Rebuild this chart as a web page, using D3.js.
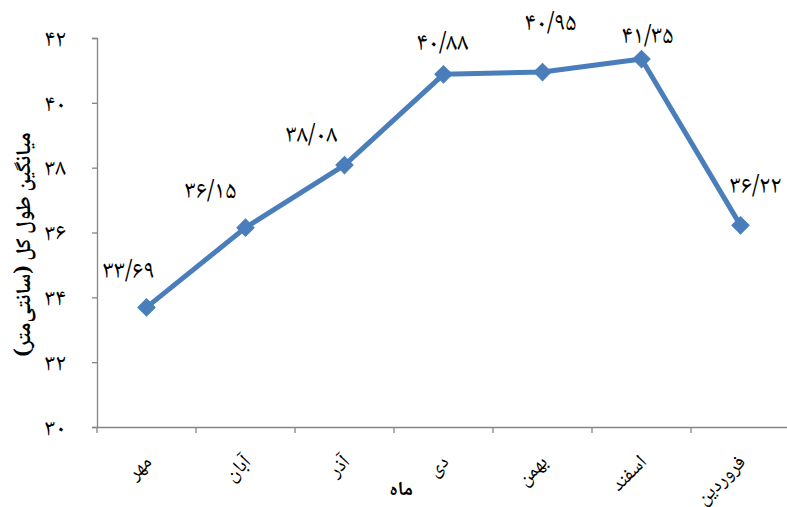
<!DOCTYPE html>
<html>
<head>
<meta charset="utf-8">
<script src="https://cdn.jsdelivr.net/npm/d3@7"></script>
<style>
  html, body { margin: 0; padding: 0; background: #fff; }
  svg { display: block; }
  text { font-family: "Noto Naskh Arabic", "DejaVu Sans", serif; fill: #000; }
</style>
</head>
<body>
<svg id="chart" width="787" height="507"></svg>
<script>
// Monthly mean total length (cm)
const months = ["مهر", "آبان", "آذر", "دی", "بهمن", "اسفند", "فروردین"];
const meanLength = [33.69, 36.15, 38.08, 40.88, 40.95, 41.35, 36.22];
const yTicks = [30, 32, 34, 36, 38, 40, 42];

// Label offsets relative to each marker (layout only)
const labelOffset = [[-18, -37], [-35, -37], [-33, -31], [-1, -32], [8, -50], [6, -24], [15, -40]];

const yTitle = "میانگین طول کل (سانتی‌متر)";
const xTitle = "ماه";

const faDigits = "۰۱۲۳۴۵۶۷۸۹";
const toFa = s => String(s).replace(/[0-9]/g, d => faDigits[+d]).replace(".", "/");

const svg = d3.select("#chart");
const mLeft = 97, mRight = 790, mTop = 38, mBottom = 427;

const x = d3.scaleBand().domain(months).range([mLeft, mRight]).padding(0);
const y = d3.scaleLinear().domain([30, 42]).range([mBottom, mTop]);

const axisColor = "#868686";

// Y axis
const yAxis = svg.append("g")
  .attr("transform", `translate(${mLeft},0)`)
  .call(d3.axisLeft(y).tickValues(yTicks).tickSize(5).tickPadding(26)
    .tickFormat(d => toFa(d)));
yAxis.select(".domain").attr("stroke", axisColor).attr("stroke-width", 1.3);
yAxis.selectAll(".tick line").attr("stroke", axisColor).attr("stroke-width", 1.3);
yAxis.selectAll(".tick text").attr("font-size", 24).attr("fill", "#000")
  .attr("dy", "0.3em");

// X axis
const xAxis = svg.append("g")
  .attr("transform", `translate(0,${mBottom})`)
  .call(d3.axisBottom(x).tickSize(0).tickFormat(""));
xAxis.select(".domain").attr("stroke", axisColor).attr("stroke-width", 1.3);
xAxis.selectAll(".tick").remove();

// Category boundary ticks
const bounds = d3.range(months.length + 1).map(i => mLeft + i * x.bandwidth());
svg.append("g").selectAll("line").data(bounds).join("line")
  .attr("x1", d => d).attr("x2", d => d)
  .attr("y1", mBottom).attr("y2", mBottom + 6)
  .attr("stroke", axisColor).attr("stroke-width", 1.3);

// Rotated month labels
svg.append("g").selectAll("text").data(months).join("text")
  .attr("transform", d => `translate(${x(d) + x.bandwidth() / 2 + 6},${mBottom + 36}) rotate(-45)`)
  .attr("text-anchor", "end")
  .attr("font-size", 20)
  .text(d => d);

// Line
const cx = (d, i) => x(months[i]) + x.bandwidth() / 2;
svg.append("path")
  .datum(meanLength)
  .attr("fill", "none")
  .attr("stroke", "#4a7ebb")
  .attr("stroke-width", 5)
  .attr("stroke-linejoin", "round")
  .attr("d", d3.line().x(cx).y(d => y(d)));

// Diamond markers
svg.append("g").selectAll("path").data(meanLength).join("path")
  .attr("d", d3.symbol(d3.symbolSquare, 150)())
  .attr("transform", (d, i) => `translate(${cx(d, i)},${y(d)}) rotate(45)`)
  .attr("fill", "#4a7ebb")
  .attr("stroke", "#4a7ebb")
  .attr("stroke-width", 1);

// Value labels
svg.append("g").selectAll("text").data(meanLength).join("text")
  .attr("x", (d, i) => cx(d, i) + labelOffset[i][0])
  .attr("y", (d, i) => y(d) + labelOffset[i][1])
  .attr("text-anchor", "middle")
  .attr("dy", "0.3em")
  .attr("font-size", 25)
  .text(d => toFa(d.toFixed(2)));

// Axis titles
svg.append("text")
  .attr("transform", `translate(30,${(mTop + mBottom) / 2 + 12}) rotate(-90)`)
  .attr("text-anchor", "middle")
  .attr("font-size", 21)
  .attr("font-weight", "bold")
  .text(yTitle);

svg.append("text")
  .attr("x", 401).attr("y", 495)
  .attr("text-anchor", "middle")
  .attr("font-size", 20)
  .attr("font-weight", "bold")
  .text(xTitle);
</script>
</body>
</html>
